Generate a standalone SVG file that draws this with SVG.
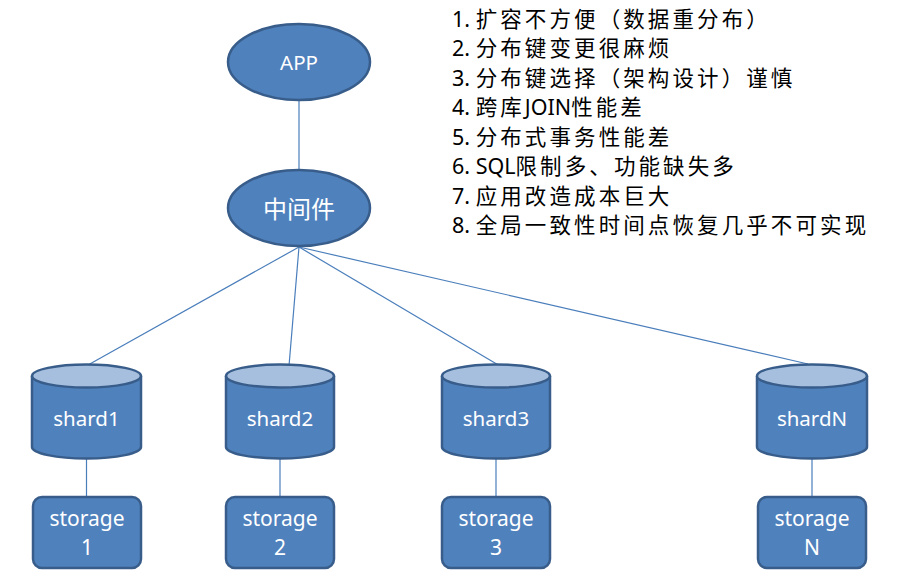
<svg xmlns="http://www.w3.org/2000/svg" width="899" height="576" viewBox="0 0 899 576">
<style>
.shape{fill:#4F81BD;stroke:#385D8A;stroke-width:2.5}
.top{fill:#A7BFDE;stroke:#385D8A;stroke-width:2.5}
.conn{stroke:#4A7EBB;stroke-width:1.2;fill:none}
.lbl{fill:#FFFFFF;font-family:"Noto Sans","Noto Sans CJK SC",sans-serif;text-anchor:middle;dominant-baseline:central}
.list{fill:#000000;font-family:"Noto Sans","Noto Sans CJK SC",sans-serif;font-size:21.5px}
.c{letter-spacing:3.1px}
</style>
<rect width="899" height="576" fill="#FFFFFF"/>
<g id="connectors">
<line class="conn" x1="299" y1="100" x2="299" y2="170"/>
<line class="conn" x1="299" y1="247" x2="88" y2="365"/>
<line class="conn" x1="299" y1="247" x2="289" y2="366"/>
<line class="conn" x1="299" y1="247" x2="500" y2="366"/>
<line class="conn" x1="299" y1="247" x2="808" y2="364"/>
<line class="conn" x1="86.5" y1="458" x2="86.5" y2="497"/>
<line class="conn" x1="280" y1="458" x2="280" y2="497"/>
<line class="conn" x1="496" y1="458" x2="496" y2="497"/>
<line class="conn" x1="812" y1="458" x2="812" y2="497"/>
</g>
<g id="app">
<ellipse class="shape" cx="299" cy="62" rx="71" ry="38"/>
<text class="lbl" x="299" y="62" font-size="20.5">APP</text>
</g>
<g id="middleware">
<ellipse class="shape" cx="299" cy="208" rx="71" ry="38"/>
<text class="lbl" x="299" y="208" font-size="24">中间件</text>
</g>
<g id="shard1">
<path class="shape" d="M32,376 L32,447 A54.5,11.5 0 0 0 141,447 L141,376"/>
<ellipse class="top" cx="86.5" cy="376" rx="54.5" ry="11.5"/>
<text class="lbl" x="86.5" y="418" font-size="20.5">shard1</text>
</g>
<g id="shard2">
<path class="shape" d="M226,376 L226,447 A54,11.5 0 0 0 334,447 L334,376"/>
<ellipse class="top" cx="280" cy="376" rx="54" ry="11.5"/>
<text class="lbl" x="280" y="418" font-size="20.5">shard2</text>
</g>
<g id="shard3">
<path class="shape" d="M442,376 L442,447 A54,11.5 0 0 0 550,447 L550,376"/>
<ellipse class="top" cx="496" cy="376" rx="54" ry="11.5"/>
<text class="lbl" x="496" y="418" font-size="20.5">shard3</text>
</g>
<g id="shardN">
<path class="shape" d="M757,376 L757,447 A55,11.5 0 0 0 867,447 L867,376"/>
<ellipse class="top" cx="812" cy="376" rx="55" ry="11.5"/>
<text class="lbl" x="812" y="418" font-size="20.5">shardN</text>
</g>
<g id="storage1">
<rect class="shape" x="33" y="497" width="108" height="71" rx="9"/>
<text class="lbl" x="87" y="518" font-size="21">storage</text>
<text class="lbl" x="87" y="547" font-size="21">1</text>
</g>
<g id="storage2">
<rect class="shape" x="226" y="497" width="108" height="71" rx="9"/>
<text class="lbl" x="280" y="518" font-size="21">storage</text>
<text class="lbl" x="280" y="547" font-size="21">2</text>
</g>
<g id="storage3">
<rect class="shape" x="442" y="497" width="108" height="71" rx="9"/>
<text class="lbl" x="496" y="518" font-size="21">storage</text>
<text class="lbl" x="496" y="547" font-size="21">3</text>
</g>
<g id="storageN">
<rect class="shape" x="758" y="497" width="108" height="71" rx="9"/>
<text class="lbl" x="812" y="518" font-size="21">storage</text>
<text class="lbl" x="812" y="547" font-size="21">N</text>
</g>
<g id="notes">
<text class="list" x="452" y="27">1. <tspan class="c">扩容不方便（数据重分布）</tspan></text>
<text class="list" x="452" y="56.4">2. <tspan class="c">分布键变更很麻烦</tspan></text>
<text class="list" x="452" y="85.9">3. <tspan class="c">分布键选择（架构设计）谨慎</tspan></text>
<text class="list" x="452" y="115.3">4. <tspan class="c">跨库</tspan>JOIN<tspan class="c">性能差</tspan></text>
<text class="list" x="452" y="144.7">5. <tspan class="c">分布式事务性能差</tspan></text>
<text class="list" x="452" y="174.1">6. SQL<tspan class="c">限制多、功能缺失多</tspan></text>
<text class="list" x="452" y="203.6">7. <tspan class="c">应用改造成本巨大</tspan></text>
<text class="list" x="452" y="233">8. <tspan class="c">全局一致性时间点恢复几乎不可实现</tspan></text>
</g>
</svg>
